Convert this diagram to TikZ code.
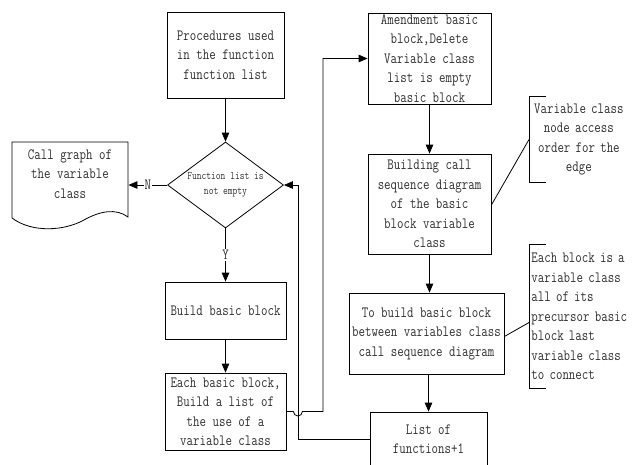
\documentclass[tikz,border=0pt]{standalone}
\usepackage{fontspec}
\newfontfamily\flowfont[FakeStretch=0.8]{Latin Modern Mono}
\usetikzlibrary{shapes.geometric,arrows.meta,calc}
\definecolor{txt}{HTML}{303030}
\begin{document}
\begin{tikzpicture}[x=1pt,y=-1pt,
  line width=0.8pt,
  lbl/.style={font=\flowfont\fontsize{15.7}{19.5}\selectfont, text=txt, align=center},
  box/.style={lbl, draw, inner sep=1pt},
  arr/.style={-{Triangle[length=9pt,width=7.5pt]}},
  ynlabel/.style={font=\flowfont\fontsize{15.7}{19.5}\selectfont, text=txt, fill=white, inner sep=1pt}]
\useasboundingbox (0,0) rectangle (632,464);
\clip (0,0) rectangle (632,464);

% main column
\node[box, minimum width=117pt, minimum height=86pt] (p1) at (225.5,55)
  {Procedures used\\in the function\\function list};
\node[diamond, draw, minimum width=116pt, minimum height=86pt, inner sep=0pt] (dec) at (225.5,185) {};
\node[font=\flowfont\fontsize{11.6}{15}\selectfont, text=txt, align=center] (dect) at (dec)
  {Function list is\\not empty};
\node[box, minimum width=121pt, minimum height=57pt] (build) at (225.5,310.5) {Build basic block};
\node[box, minimum width=121pt, minimum height=77pt] (each) at (225.5,411.5)
  {Each basic block,\\Build a list of\\the use of a\\variable class};

% output document
\node[lbl, minimum width=116pt, inner sep=0pt] (call) at (70,174) {Call graph of\\the variable\\class};
\draw (12,142) -- (128,142) -- (128,217)
  .. controls (116,208) and (100,211) .. (84,220)
  .. controls (64,231) and (32,233) .. (12,218) -- cycle;

% right column
\node[box, minimum width=123pt, minimum height=91pt] (amend) at (429.5,58.5)
  {Amendment basic\\block,Delete\\Variable class\\list is empty\\basic block};
\node[box, minimum width=123pt, minimum height=100pt] (seq) at (429.5,204)
  {Building call\\sequence diagram\\of the basic\\block variable\\class};
\node[box, minimum width=155pt, minimum height=81pt] (between) at (426.5,333.5)
  {To build basic block\\between variables class\\call sequence diagram};
\node[box, minimum width=117pt, minimum height=54pt] (list) at (428.5,439)
  {List of\\functions+1};

% annotations
\node[lbl, anchor=west, text width=95pt, inner sep=2pt, minimum height=85pt] (note1) at (529,139.5)
  {Variable class\\node access\\order for the\\edge};
\node[lbl, align=left, anchor=west, text width=101pt, inner sep=2pt, minimum height=143pt] (note2) at (529,316.5)
  {Each block is a\\variable class\\all of its\\precursor basic\\block last\\variable class\\to connect};
\draw ([xshift=17pt]note1.north west) -- (note1.north west) -- (note1.south west) -- ([xshift=17pt]note1.south west);
\draw ([xshift=17pt]note2.north west) -- (note2.north west) -- (note2.south west) -- ([xshift=17pt]note2.south west);
\draw ([yshift=-1pt]seq.east) -- (note1.west);
\draw ([yshift=-3pt]between.east) -- ([yshift=-6pt]note2.west);

% connectors
\draw[arr] (p1.south) -- (dec.north);
\draw[arr] (dec.south) -- node[ynlabel] {Y} (build.north);
\draw[arr] (dec.west) -- node[ynlabel] {N} (dec.west -| call.east);
\draw[arr] (build.south) -- (each.north);
\draw[arr] (amend.south) -- (seq.north);
\draw[arr] (seq.south) -- (seq.south |- between.north);
\draw[arr] (list.north |- between.south) -- (list.north);

% loop back to the decision
\coordinate (loop) at ([xshift=14pt]dec.east);
\draw[arr] (list.west) -| (loop) -- (dec.east);

% jump over the loop line towards the amendment step
\coordinate (hop) at (loop |- each.east);
\coordinate (up) at (323,411.5);
\draw[arr] (each.east) -- ([xshift=-4.5pt]hop) arc[start angle=180, end angle=360, radius=4.5pt]
  -- (up) |- (amend.west);
\end{tikzpicture}
\end{document}
